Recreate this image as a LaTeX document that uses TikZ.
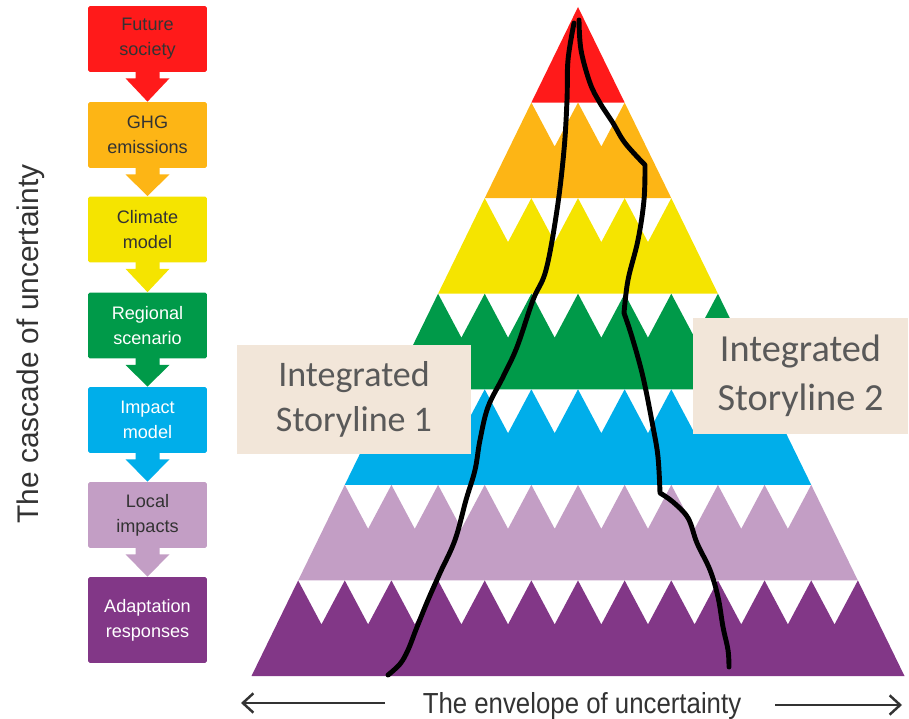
\documentclass[tikz,border=0pt]{standalone}
\usepackage{fontspec}
\setmainfont{Liberation Sans}
\newfontfamily\storyfont{Carlito}
\usetikzlibrary{arrows.meta,calc}

\definecolor{futureRed}{RGB}{255,26,26}
\definecolor{ghgOrange}{RGB}{253,181,21}
\definecolor{climateYellow}{RGB}{245,228,0}
\definecolor{regionGreen}{RGB}{0,154,73}
\definecolor{impactBlue}{RGB}{0,174,234}
\definecolor{localLilac}{RGB}{195,158,197}
\definecolor{adaptPurple}{RGB}{130,55,135}
\definecolor{storyBeige}{RGB}{242,230,217}
\definecolor{storyGrey}{RGB}{89,89,89}
\definecolor{labelGrey}{RGB}{51,51,51}

\begin{document}
\begin{tikzpicture}[x=0.02cm, y=-0.02cm,
    stage/.style={rectangle, rounded corners=1pt, minimum width=2.38cm, minimum height=1.32cm,
        align=center, inner sep=0pt, font=\fontsize{10.3}{14.2}\selectfont},
    storybox/.style={fill=storyBeige, text=storyGrey, align=center, inner sep=0pt,
        font=\storyfont\fontsize{20.5}{26}\selectfont},
    storyline/.style={line width=2.8pt, line cap=round, line join=round},
    envelope/.style={draw=labelGrey, line width=1.4pt, -{Straight Barb[length=6pt, width=11pt]}}
]
\useasboundingbox (0,0) rectangle (909,719);

% cascade of stages
\begin{scope}[every node/.style={stage}]
    \node[fill=futureRed, text=labelGrey] (fut) at (147.5,39) {Future\\society};
    \node[fill=ghgOrange, text=labelGrey] (ghg) at (147.5,135) {GHG\\emissions};
    \node[fill=climateYellow, text=labelGrey] (clim) at (147.5,229.5) {Climate\\model};
    \node[fill=regionGreen, text=white] (reg) at (147.5,325.5) {Regional\\scenario};
    \node[fill=impactBlue, text=white] (imp) at (147.5,420) {Impact\\model};
    \node[fill=localLilac, text=labelGrey] (loc) at (147.5,515) {Local\\impacts};
    \node[fill=adaptPurple, text=white, minimum height=1.72cm] (adapt) at (147.5,620) {Adaptation\\responses};
\end{scope}

% block arrows between stages
\foreach \a/\b/\col in {fut/ghg/futureRed, ghg/clim/ghgOrange, clim/reg/climateYellow,
        reg/imp/regionGreen, imp/loc/impactBlue, loc/adapt/localLilac}{
    \fill[\col] ($(\a.south)+(-12,-1)$) -- ($(\a.south)+(-12,6)$) -- ($(\a.south)+(-22,6)$)
        -- (\b.north) -- ($(\a.south)+(22,6)$) -- ($(\a.south)+(12,6)$)
        -- ($(\a.south)+(12,-1)$) -- cycle;
}

\node[rotate=90, anchor=base, text=labelGrey, font=\fontsize{17}{20}\selectfont] (cascade)
    at (38,344) {The cascade of uncertainty};

% pyramid of uncertainty
\def\W{46.643}
\def\H{95.571}
\fill[futureRed] (578,7) -- ({578-\W},{7+\H}) -- ({578+\W},{7+\H}) -- cycle;
\foreach \k/\col in {2/ghgOrange, 3/climateYellow, 4/regionGreen, 5/impactBlue,
        6/localLilac, 7/adaptPurple}{
    \pgfmathsetmacro\yt{7+(\k-1)*\H}
    \pgfmathsetmacro\yb{\yt+\H}
    \pgfmathsetmacro\xl{578-(\k-1)*\W}
    \pgfmathtruncatemacro\n{2*(\k-1)}
    \fill[\col] ({578-\k*\W},\yb) -- (\xl,\yt)
        \foreach \j in {1,...,\n}{ -- ({\xl+(\j-0.5)*\W},{\yt+0.46*\H}) -- ({\xl+\j*\W},\yt) }
        -- ({578+\k*\W},\yb) -- cycle;
}

% storyline labels
\node[storybox, minimum width=4.68cm, minimum height=2.18cm] (story1) at (354,399.5) {Integrated\\Storyline 1};
\node[storybox, minimum width=4.3cm, minimum height=2.32cm, font=\storyfont\fontsize{21.8}{27.8}\selectfont]
    (story2) at (800.5,376) {Integrated\\Storyline 2};

% the two storylines
\draw[storyline] plot[smooth, tension=0.6] coordinates {(574,23) (568,60) (567,100) (564,150)
    (557,210) (546,270) (533,300) (517,347) (503,377) (488,407) (480,440) (475,470) (466,500)
    (455,540) (440,573) (428,600) (417,627) (408,650) (400,664) (388,675)};
\draw[storyline] plot[smooth, tension=0.6] coordinates {(579,20) (581,50) (590,83) (600,103)
    (613,123) (625,143) (645,165)}
    -- plot[smooth, tension=0.6] coordinates {(645,165) (644,200) (638,240) (628,280) (624,313)}
    -- plot[smooth, tension=0.6] coordinates {(624,313) (632,337) (643,377) (653,427) (658,457) (660,493)}
    -- plot[smooth, tension=0.6] coordinates {(660,493) (673,502) (688,518) (697,543) (710,570)
    (718,597) (723,627) (728,650) (729,667)};

% envelope axis
\node[anchor=base, text=labelGrey, font=\fontsize{16.5}{20}\selectfont, xscale=0.89] (env)
    at (582,713) {The envelope of uncertainty};
\coordinate (envL) at (385,703);
\coordinate (envLtip) at (241,703);
\coordinate (envR) at (775,705);
\coordinate (envRtip) at (902,705);
\draw[envelope] (envL) -- (envLtip);
\draw[envelope] (envR) -- (envRtip);

\end{tikzpicture}
\end{document}
